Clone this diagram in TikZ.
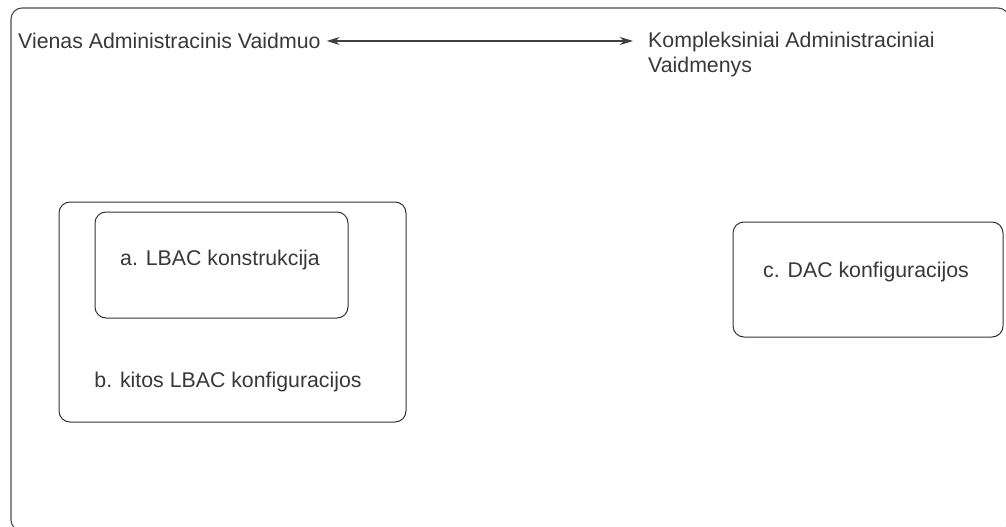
\documentclass[tikz,border=0pt]{standalone}
\usepackage{fontspec}
\setmainfont{Liberation Sans}
\usetikzlibrary{arrows.meta}
\begin{document}
\begin{tikzpicture}[x=1pt,y=-1pt,
  frame/.style={draw=black!70,line width=1.1pt,rounded corners=11pt},
  rbox/.style={draw=black!80,line width=1pt,rounded corners=11pt},
  lbl/.style={font=\fontsize{21.3}{25}\selectfont,text=black!78,inner sep=0pt},
  tip/.tip={Stealth[length=13pt,width=8pt,inset=4pt]},
  link/.style={draw=black!75,line width=1.1pt,tip-tip}]
\useasboundingbox (0,0) rectangle (1006,527);
\clip (0,0) rectangle (1006,527);
% outer frame, running past the page edge
\draw[frame] (11,8) rectangle (1009,531);
% top labels and the double-headed connector
\node[lbl,anchor=west] (single) at (18,41) {Vienas Administracinis Vaidmuo};
\node[lbl,anchor=north west,align=left] (complex) at (648,32) {Kompleksiniai Administraciniai\\Vaidmenys};
\coordinate (lend) at ([xshift=6pt]single.east);
\coordinate (rend) at (633,41);
\draw[link] (lend) -- (rend);
% left group
\draw[rbox] (59,202) rectangle (406,422);
\draw[rbox] (95,212) rectangle (348,318);
\node[lbl] (a) at (220,260) {a. LBAC konstrukcija};
\node[lbl] (b) at (228,382) {b. kitos LBAC konfiguracijos};
% right box
\draw[rbox] (733,222) rectangle (1003,337);
\node[lbl] (c) at (866,272) {c. DAC konfiguracijos};
\end{tikzpicture}
\end{document}
